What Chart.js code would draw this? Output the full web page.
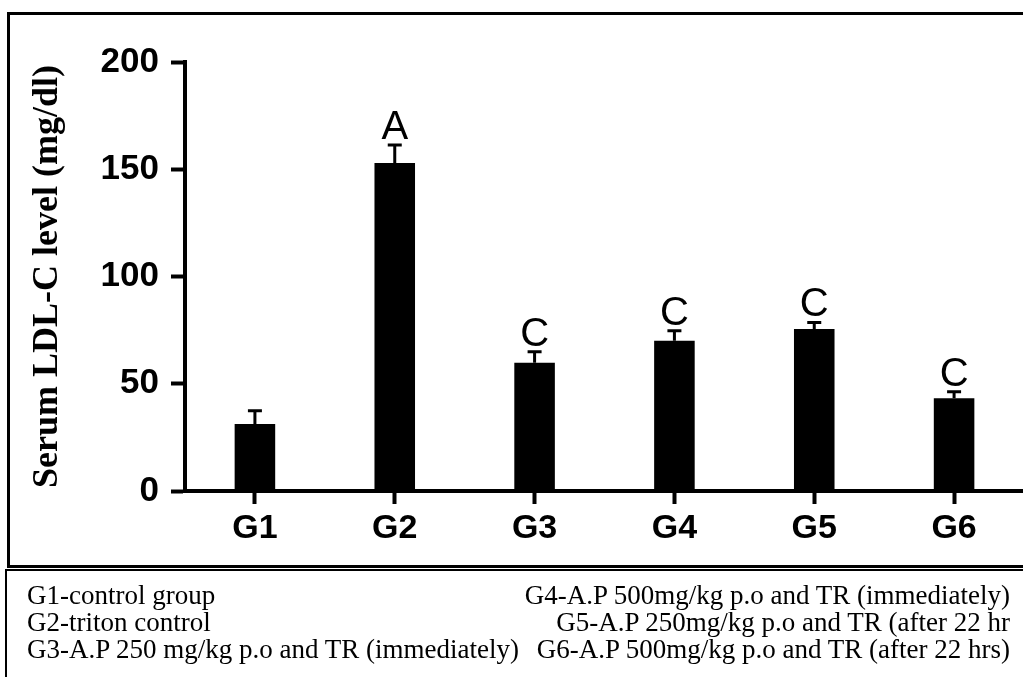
<!DOCTYPE html>
<html>
<head>
<meta charset="utf-8">
<script src="https://cdn.jsdelivr.net/npm/chart.js@4"></script>
<style>
  html, body { margin: 0; padding: 0; background: #fff; overflow: hidden; width: 1023px; height: 677px; }
  #wrap { position: absolute; left: 0; top: 0; width: 1040px; height: 565px; }
  #chartBox { position: absolute; left: 7px; top: 12px; width: 1100px; height: 550px; border: 3px solid #000; }
  #legendBox { position: absolute; left: 5px; top: 569px; width: 1100px; height: 200px; border: 2px solid #000; }
  .notes { position: absolute; top: 582px; font-family: "Liberation Serif", "Times New Roman", serif; font-size: 27px; line-height: 27px; color: #000; white-space: nowrap; }
  #notesLeft { left: 27px; text-align: left; }
  #notesRight { right: 13px; text-align: right; }
</style>
</head>
<body>
<div id="wrap"><canvas id="ldlChart"></canvas></div>
<div id="chartBox"></div>
<div id="legendBox"></div>
<div class="notes" id="notesLeft"></div>
<div class="notes" id="notesRight"></div>
<script>
const groups = ["G1", "G2", "G3", "G4", "G5", "G6"];
const ldlMeans = [31.2, 152.9, 59.8, 70.1, 75.5, 43.2];
const ldlSem = [6.2, 8.4, 5.1, 4.6, 3.1, 3.1];
const sigLetters = ["", "A", "C", "C", "C", "C"];
const yTicks = [0, 50, 100, 150, 200];
const notesLeft = [
  "G1-control group",
  "G2-triton control",
  "G3-A.P 250 mg/kg p.o and TR (immediately)"
];
const notesRight = [
  "G4-A.P 500mg/kg p.o and TR (immediately)",
  "G5-A.P 250mg/kg p.o and TR (after 22 hr",
  "G6-A.P 500mg/kg p.o and TR (after 22 hrs)"
];

document.getElementById("notesLeft").innerHTML = notesLeft.join("<br>");
document.getElementById("notesRight").innerHTML = notesRight.join("<br>");

// upper error bars + letters above bars
const errorBarPlugin = {
  id: "errorBars",
  afterDatasetsDraw(chart) {
    const ctx = chart.ctx;
    const yScale = chart.scales.y;
    const meta = chart.getDatasetMeta(0);
    ctx.save();
    ctx.strokeStyle = "#000";
    ctx.fillStyle = "#000";
    ctx.lineWidth = 3;
    meta.data.forEach((bar, i) => {
      const x = bar.x;
      const yTop = yScale.getPixelForValue(ldlMeans[i] + ldlSem[i]);
      ctx.beginPath();
      ctx.moveTo(x, bar.y);
      ctx.lineTo(x, yTop);
      ctx.moveTo(x - 7, yTop);
      ctx.lineTo(x + 7, yTop);
      ctx.stroke();
      if (sigLetters[i]) {
        ctx.font = "40px 'Liberation Sans', Arial, sans-serif";
        ctx.textAlign = "center";
        ctx.textBaseline = "alphabetic";
        ctx.fillText(sigLetters[i], x, yTop - 6);
      }
    });
    ctx.restore();
  }
};

new Chart(document.getElementById("ldlChart"), {
  type: "bar",
  data: {
    labels: groups,
    datasets: [{
      data: ldlMeans,
      backgroundColor: "#000",
      borderWidth: 0,
      barPercentage: 0.29,
      categoryPercentage: 1
    }]
  },
  options: {
    responsive: true,
    maintainAspectRatio: false,
    animation: false,
    layout: { padding: { left: 8, top: 62, right: 16, bottom: 0 } },
    plugins: { legend: { display: false }, tooltip: { enabled: false } },
    scales: {
      x: {
        afterFit(scale) { scale.height = 74; },
        border: { display: true, color: "#000", width: 4 },
        grid: { display: true, offset: false, drawOnChartArea: false, drawTicks: true, tickLength: 13, tickWidth: 4, tickColor: "#000" },
        ticks: { color: "#000", padding: 4, font: { family: "'Liberation Sans', Arial, sans-serif", size: 34, weight: "bold" } }
      },
      y: {
        min: 0,
        max: 200,
        afterFit(scale) { scale.width = 177; },
        afterBuildTicks(scale) { scale.ticks = yTicks.map(v => ({ value: v })); },
        border: { display: true, color: "#000", width: 4 },
        grid: { display: true, drawOnChartArea: false, drawTicks: true, tickLength: 14, tickWidth: 4, tickColor: "#000" },
        ticks: { color: "#000", padding: 12, font: { family: "'Liberation Sans', Arial, sans-serif", size: 35, weight: "bold" } },
        title: {
          display: true,
          text: "Serum LDL-C level (mg/dl)",
          color: "#000",
          padding: { top: 18, bottom: 0 },
          font: { family: "'Liberation Serif', 'Times New Roman', serif", size: 36, weight: "bold" }
        }
      }
    }
  },
  plugins: [errorBarPlugin]
});
</script>
</body>
</html>
